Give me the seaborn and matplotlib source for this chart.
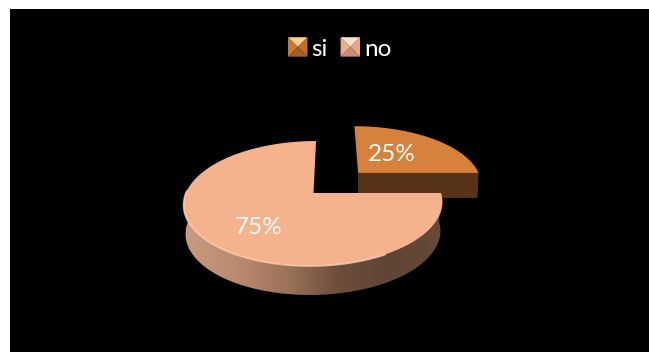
import numpy as np
import seaborn as sns
import matplotlib
matplotlib.use("Agg")
import matplotlib.pyplot as plt
from matplotlib.colors import ListedColormap
from matplotlib.legend_handler import HandlerPatch
from matplotlib.patches import Polygon, Rectangle

# Survey answers
categories = ["si", "no"]
shares = [25, 75]

TOP_COLORS = ["#d6813c", "#f4b28d"]
FRONT_COLOR = "#573417"
SIDE_RAMP = ["#cb9b7f", "#ba8b70", "#9c725a", "#6b4d3b", "#5f4536", "#664a39"]
BEVEL = {
    "si": ["#f7cf8d", "#cb7a35", "#c0702e", "#a35e26"],
    "no": ["#fde3cc", "#eeae8a", "#e6a888", "#c98f72"],
}

sns.set_theme(style="white")
plt.rcParams["font.family"] = ["Lato", "DejaVu Sans"]

W, H = 649, 352
fig = plt.figure(figsize=(W / 100, H / 100), dpi=100, facecolor="white")
ax = fig.add_axes([10 / W, 0, (W - 10) / W, (H - 9) / H])
ax.set_facecolor("black")
ax.set_xlim(10, W)
ax.set_ylim(H, 9)
ax.set_xticks([])
ax.set_yticks([])
sns.despine(ax=ax, left=True, bottom=True)

# Perspective view of the unit disc, expressed in canvas pixels
CX, CY = 313.5, 193.0
RX, RY = 127.5, 60.7
TILT = 0.168
SHEAR = 3.0
DEPTH = 29.0
EXPLODE_X, EXPLODE_Y = 0.362, 0.35


def project(x, y, drop=0.0):
    w = 1 + TILT * y
    scale = 1 - 0.015 * (drop > 0)
    return (CX + (RX * x * scale + SHEAR * y) / w,
            CY - RY * y / w + drop)


def wedge(start, end, dx=0.0, dy=0.0, drop=0.0):
    t = np.radians(np.linspace(start, end, 240))
    xs = np.r_[dx, dx + np.cos(t)]
    ys = np.r_[dy, dy + np.sin(t)]
    return np.column_stack(project(xs, ys, drop))


edges = np.cumsum([0] + shares) * 3.6
# The first category spans 0-90 degrees, the second takes the remainder
si_start, si_end = edges[0], edges[1]
no_start, no_end = edges[1], edges[2]

# Exploded slice: front face first, then its top
a = project(np.array([EXPLODE_X, EXPLODE_X + 1]), np.array([EXPLODE_Y, EXPLODE_Y]))
ax.add_patch(Polygon([(a[0][0], a[1][0]), (a[0][1], a[1][0]),
                      (a[0][1] - 1, a[1][1] + 25), (a[0][0], a[1][0] + 25)],
                     closed=True, fc=FRONT_COLOR, ec="none"))
ax.add_patch(Polygon(wedge(si_start, si_end, EXPLODE_X, EXPLODE_Y),
                     closed=True, fc=TOP_COLORS[0], ec="none"))

# Curved wall of the large slice, shaded from left to right
rim = wedge(175, no_end)[1:]
floor = wedge(175, no_end, drop=DEPTH)[1:]
wall = Polygon(np.vstack([rim, floor[::-1]]), closed=True, fc="none", ec="none")
ax.add_patch(wall)
ramp = ListedColormap(sns.blend_palette(SIDE_RAMP, 256))
shade = ax.imshow(np.linspace(0, 1, 256)[None, :], cmap=ramp, aspect="auto",
                  extent=(rim[:, 0].min(), rim[:, 0].max(), floor[:, 1].max(), rim[:, 1].min()),
                  zorder=1.5)
shade.set_clip_path(wall)
ax.set_xlim(10, W)
ax.set_ylim(H, 9)

ax.add_patch(Polygon(wedge(no_start, no_end), closed=True, fc=TOP_COLORS[1],
                     ec="none", zorder=2))
glow = wedge(178, 300)[1:]
ax.plot(glow[:, 0], glow[:, 1], color="#ffd2b4", lw=1.3, alpha=0.8, zorder=2.1)

# Percentage labels
label_spots = [(49.6, 0.47, EXPLODE_X, EXPLODE_Y), (233.6, 0.646, 0.0, 0.0)]
for share, (ang, r, ox, oy) in zip(shares, label_spots):
    lx, ly = project(ox + r * np.cos(np.radians(ang)), oy + r * np.sin(np.radians(ang)))
    ax.text(lx, ly, f"{share}%", color="white", fontsize=17.5,
            ha="center", va="center", zorder=3)


class BevelHandler(HandlerPatch):
    """Legend key drawn as a small bevelled square."""

    def create_artists(self, legend, orig, xd, yd, width, height, fontsize, trans):
        tones = BEVEL[orig.get_label()]
        side = 14
        x0, y0 = (width - side) / 2 - xd, (height - side) / 2 - yd
        x1, y1 = x0 + side, y0 + side
        mx, my = (x0 + x1) / 2, (y0 + y1) / 2
        faces = [
            [(x0, y1), (x1, y1), (mx, my)],
            [(x0, y0), (x0, y1), (mx, my)],
            [(x1, y0), (x1, y1), (mx, my)],
            [(x0, y0), (x1, y0), (mx, my)],
        ]
        return [Polygon(f, closed=True, fc=t, ec="none", transform=trans)
                for f, t in zip(faces, tones)]


keys = [Rectangle((0, 0), 1, 1, label=c) for c in categories]
leg = ax.legend(handles=keys, ncol=2, frameon=False, fontsize=17.5,
                labelcolor="white", handler_map={Rectangle: BevelHandler()},
                loc="center", bbox_to_anchor=(341 / W, 1 - 49 / H),
                bbox_transform=fig.transFigure,
                handlelength=0.6, handleheight=0.6, handletextpad=0.27,
                columnspacing=0.62, borderpad=0)

fig.savefig("out.png", dpi=100, facecolor="white")
